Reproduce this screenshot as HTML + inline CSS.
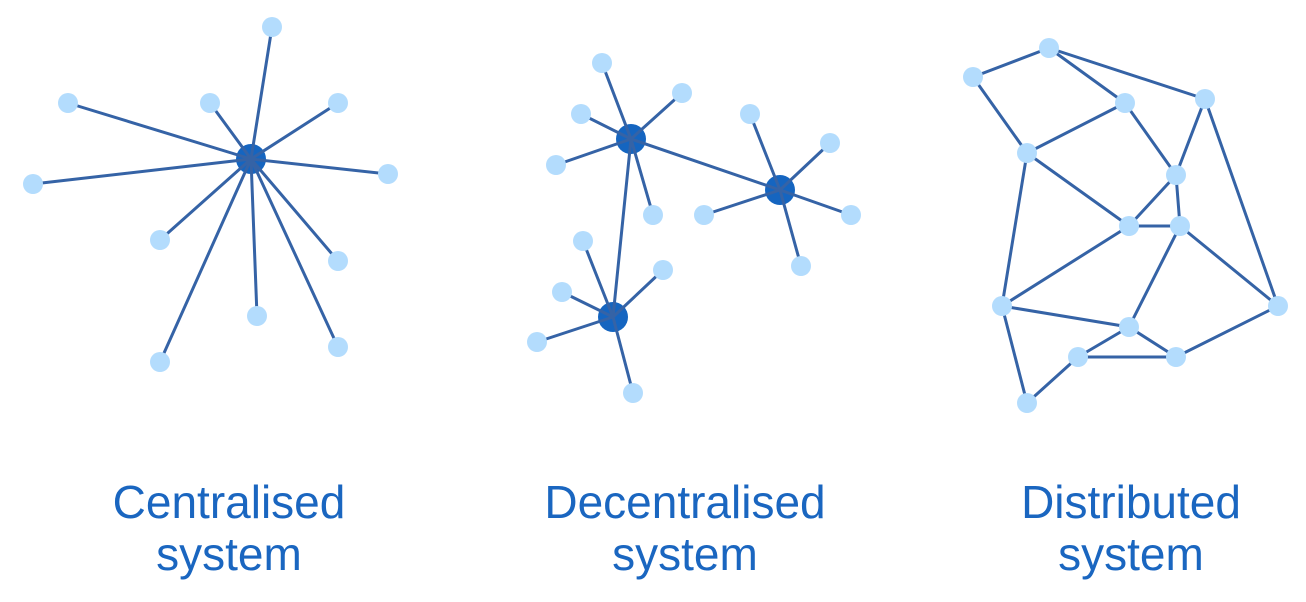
<!DOCTYPE html>
<html><head><style>body{margin:0;background:#fff}svg{display:block}</style></head><body>
<svg width="1306" height="602" viewBox="0 0 1306 602" xmlns="http://www.w3.org/2000/svg">
<g fill="#1565c0">
<circle cx="251" cy="159" r="15"/>
<circle cx="631" cy="139" r="15"/>
<circle cx="780" cy="190" r="15"/>
<circle cx="613" cy="317" r="15"/>
</g>
<g stroke="#3563a6" stroke-width="3" fill="none">
<path d="M251 159L272 27M251 159L68 103M251 159L210 103M251 159L338 103M251 159L33 184M251 159L388 174M251 159L160 240M251 159L338 261M251 159L257 316M251 159L160 362M251 159L338 347"/>
<path d="M631 139L602 63M631 139L682 93M631 139L581 114M631 139L556 165M631 139L653 215M631 139L780 190M631 139L613 317"/>
<path d="M780 190L750 114M780 190L830 143M780 190L704 215M780 190L851 215M780 190L801 266"/>
<path d="M613 317L583 241M613 317L663 270M613 317L562 292M613 317L537 342M613 317L633 393"/>
<path d="M973 77L1049 48M1049 48L1125 103M1049 48L1205 99M973 77L1027 153M1027 153L1125 103M1125 103L1176 175M1205 99L1176 175M1205 99L1278 306M1027 153L1129 226M1027 153L1002 306M1176 175L1129 226M1176 175L1180 226M1129 226L1180 226M1129 226L1002 306M1180 226L1129 327M1180 226L1278 306M1002 306L1129 327M1002 306L1027 403M1027 403L1078 357M1078 357L1129 327M1078 357L1176 357M1129 327L1176 357M1176 357L1278 306"/>
</g>
<g fill="#b3dcfd">
<circle cx="272" cy="27" r="10"/><circle cx="68" cy="103" r="10"/><circle cx="210" cy="103" r="10"/><circle cx="338" cy="103" r="10"/><circle cx="33" cy="184" r="10"/><circle cx="388" cy="174" r="10"/><circle cx="160" cy="240" r="10"/><circle cx="338" cy="261" r="10"/><circle cx="257" cy="316" r="10"/><circle cx="160" cy="362" r="10"/><circle cx="338" cy="347" r="10"/>
<circle cx="602" cy="63" r="10"/><circle cx="682" cy="93" r="10"/><circle cx="581" cy="114" r="10"/><circle cx="556" cy="165" r="10"/><circle cx="653" cy="215" r="10"/>
<circle cx="750" cy="114" r="10"/><circle cx="830" cy="143" r="10"/><circle cx="704" cy="215" r="10"/><circle cx="851" cy="215" r="10"/><circle cx="801" cy="266" r="10"/>
<circle cx="583" cy="241" r="10"/><circle cx="663" cy="270" r="10"/><circle cx="562" cy="292" r="10"/><circle cx="537" cy="342" r="10"/><circle cx="633" cy="393" r="10"/>
<circle cx="1049" cy="48" r="10"/><circle cx="973" cy="77" r="10"/><circle cx="1125" cy="103" r="10"/><circle cx="1205" cy="99" r="10"/><circle cx="1027" cy="153" r="10"/><circle cx="1176" cy="175" r="10"/><circle cx="1129" cy="226" r="10"/><circle cx="1180" cy="226" r="10"/><circle cx="1002" cy="306" r="10"/><circle cx="1278" cy="306" r="10"/><circle cx="1129" cy="327" r="10"/><circle cx="1078" cy="357" r="10"/><circle cx="1176" cy="357" r="10"/><circle cx="1027" cy="403" r="10"/>
</g>
<g font-family="Liberation Sans, sans-serif" font-size="46" fill="#1a66c0" text-anchor="middle">
<text x="229" y="518">Centralised</text><text x="229" y="570">system</text>
<text x="685" y="518">Decentralised</text><text x="685" y="570">system</text>
<text x="1131" y="518">Distributed</text><text x="1131" y="570">system</text>
</g>
</svg>
</body></html>
